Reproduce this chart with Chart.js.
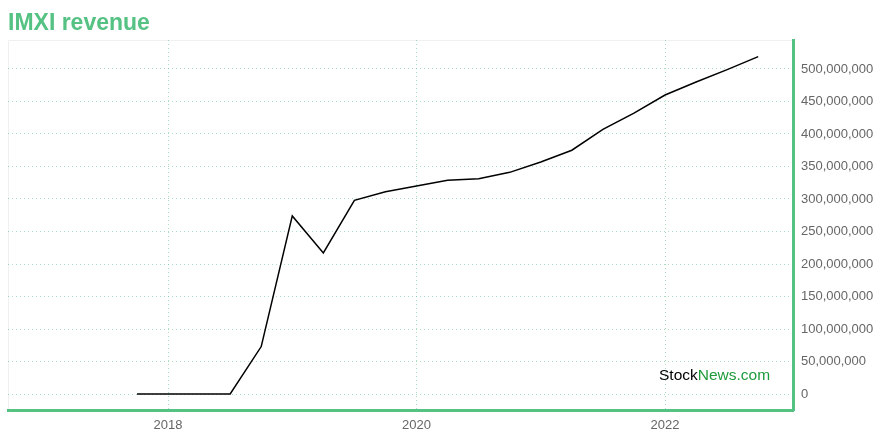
<!DOCTYPE html>
<html>
<head>
<meta charset="utf-8">
<script src="https://cdn.jsdelivr.net/npm/chart.js@4/dist/chart.umd.min.js"></script>
<style>
  html, body { margin: 0; padding: 0; background: #fff; }
  #wrap { width: 880px; height: 440px; position: relative; }
</style>
</head>
<body>
<div id="wrap"><canvas id="myChart" width="880" height="440"></canvas></div>
<script>
// quarters as decimal years
const quarters = [2017.75, 2018.0, 2018.25, 2018.5, 2018.75, 2019.0, 2019.25, 2019.5, 2019.75,
  2020.0, 2020.25, 2020.5, 2020.75, 2021.0, 2021.25, 2021.5, 2021.75, 2022.0, 2022.25, 2022.5, 2022.75];
const revenue = [0, 0, 0, 0, 73e6, 274e6, 217e6, 298e6, 311e6,
  320e6, 329e6, 331e6, 341e6, 357e6, 375e6, 407e6, 432e6, 460e6, 480e6, 499e6, 519e6];
const yearTicks = [2018, 2020, 2022];
const revenueTicks = [0, 50e6, 100e6, 150e6, 200e6, 250e6, 300e6, 350e6, 400e6, 450e6, 500e6];

const green = '#55c283';
const gridGreen = 'rgba(85,194,131,0.5)';

const extras = {
  id: 'extras',
  beforeDraw(chart) {
    const { ctx, chartArea: a } = chart;
    ctx.save();
    ctx.strokeStyle = '#f0f0f0';
    ctx.lineWidth = 1;
    ctx.beginPath();
    ctx.moveTo(a.left + 0.5, a.bottom);
    ctx.lineTo(a.left + 0.5, a.top + 0.5);
    ctx.lineTo(a.right, a.top + 0.5);
    ctx.stroke();
    ctx.restore();
  },
  afterDraw(chart) {
    const { ctx } = chart;
    ctx.save();
    // title
    ctx.font = 'bold 23px "Liberation Sans", Arial, sans-serif';
    ctx.fillStyle = green;
    ctx.textBaseline = 'alphabetic';
    ctx.fillText('IMXI revenue', 8, 30);
    // watermark
    ctx.font = '15.5px "Liberation Sans", Arial, sans-serif';
    ctx.fillStyle = '#000';
    const x0 = 659, y0 = 380;
    ctx.fillText('Stock', x0, y0);
    const w = ctx.measureText('Stock').width;
    ctx.fillStyle = '#1e9a3c';
    ctx.fillText('News.com', x0 + w, y0);
    ctx.restore();
  }
};

const ctx = document.getElementById('myChart').getContext('2d');
new Chart(ctx, {
  type: 'line',
  data: {
    datasets: [{
      data: quarters.map((q, i) => ({ x: q, y: revenue[i] })),
      borderColor: '#000',
      borderWidth: 1.5,
      pointRadius: 0,
      tension: 0,
      fill: false
    }]
  },
  options: {
    responsive: false,
    animation: false,
    layout: { padding: { top: 40, left: 8, right: 0, bottom: 0 } },
    plugins: { legend: { display: false }, tooltip: { enabled: false } },
    scales: {
      x: {
        type: 'linear',
        min: 2016.712,
        max: 2023.03,
        afterBuildTicks: axis => { axis.ticks = yearTicks.map(v => ({ value: v })); },
        afterFit: scale => { scale.height = 30; },
        ticks: {
          color: '#666',
          font: { size: 13, family: '"Liberation Sans", Arial, sans-serif' },
          padding: 8,
          maxRotation: 0,
          callback: v => String(v)
        },
        grid: { color: gridGreen, drawTicks: false, tickLength: 0 },
        border: { color: green, width: 3, dash: [1, 3] }
      },
      y: {
        position: 'right',
        min: -24.6e6,
        max: 544.6e6,
        afterBuildTicks: axis => { axis.ticks = revenueTicks.map(v => ({ value: v })); },
        afterFit: scale => { scale.width = 87; },
        ticks: {
          color: '#666',
          font: { size: 13, family: '"Liberation Sans", Arial, sans-serif' },
          padding: 8,
          callback: v => v.toLocaleString('en-US')
        },
        grid: { color: gridGreen, drawTicks: false, tickLength: 0 },
        border: { color: green, width: 3, dash: [1, 3] }
      }
    }
  },
  plugins: [extras]
});
</script>
</body>
</html>
